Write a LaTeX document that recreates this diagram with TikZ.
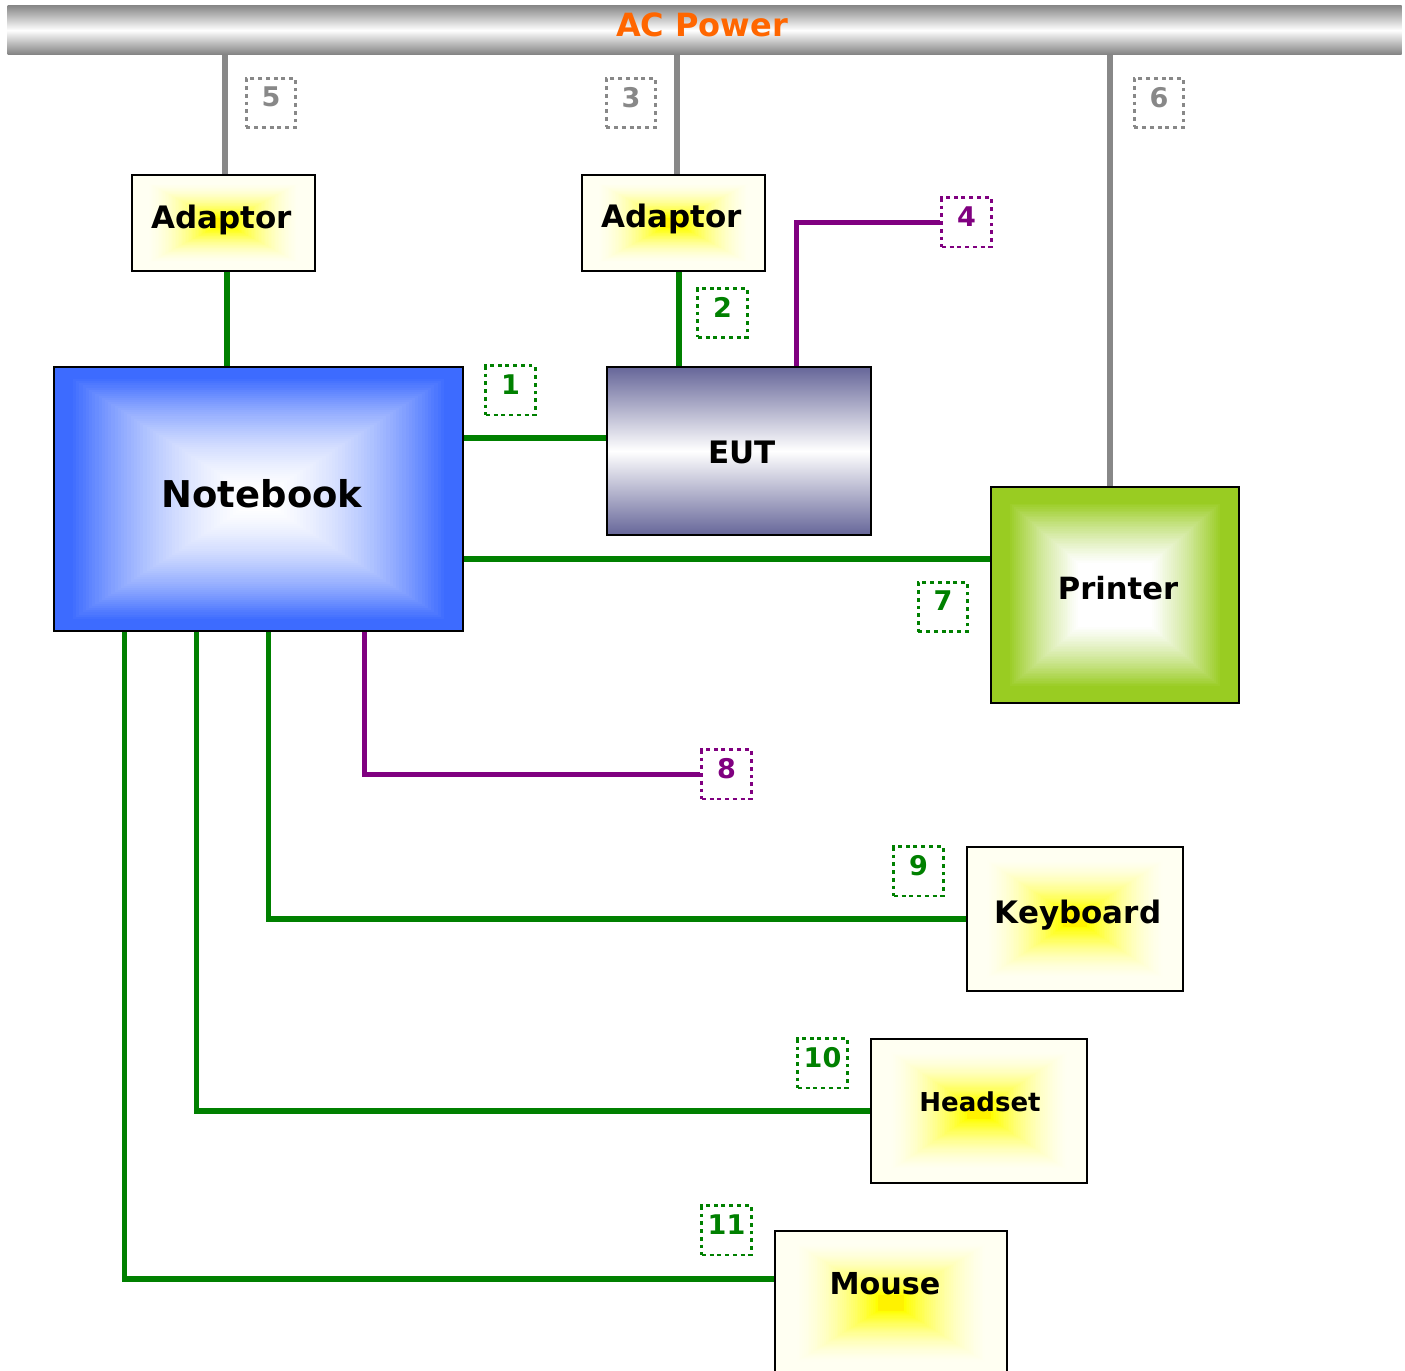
\documentclass[tikz,border=0pt]{standalone}
\usepackage{fontspec}
\setmainfont{DejaVu Sans}
\usetikzlibrary{calc}
\definecolor{grn}{HTML}{008000}
\definecolor{purp}{HTML}{800080}
\definecolor{lgray}{HTML}{888888}
\definecolor{acorange}{HTML}{FF6600}
\definecolor{nbblue}{HTML}{3D6BFF}
\definecolor{prgreen}{HTML}{99CC22}
\definecolor{eutc}{HTML}{666699}
\definecolor{ivory}{HTML}{FFFFF2}
\newcommand\fsz[1]{\fontsize{#1}{#1}\selectfont\bfseries}
% rectangular gradient: #1 edge colour, #2 centre colour, #3 inner limit, #4 outer limit, #5 linear share
\newcommand\rgrad[5]{%
  \foreach \i in {0,...,63}{%
    \pgfmathsetmacro\tt{1-\i/64}%
    \pgfmathsetmacro\xx{min(1,max(0,(\tt-#3)/(#4-#3)))}%
    \pgfmathsetmacro\pp{100*(#5*\xx+(1-#5)*\xx*\xx)}%
    \fill[#1!\pp!#2] ($(path picture bounding box.center)!\tt!(path picture bounding box.north west)$) rectangle ($(path picture bounding box.center)!\tt!(path picture bounding box.south east)$);
  }%
}
\begin{document}
\begin{tikzpicture}[x=0.01cm,y=-0.01cm,
  wire/.style={line width=1.45pt},
  gw/.style={wire, grn},
  pw/.style={wire, purp},
  aw/.style={line width=1.7pt, lgray},
  boxb/.style={draw=black, line width=0.6pt, inner sep=0pt},
  ybox/.style={boxb, path picture={\rgrad{ivory}{yellow}{0.12}{0.82}{1.7}}},
  lbl/.style={draw, line width=0.85pt, dash pattern=on 1.1pt off 1.1pt, minimum width=0.49cm, minimum height=0.49cm, inner sep=0pt, text depth=0.12cm, font=\fsz{7.7}},
  txt/.style={inner sep=0pt, text=black}]
\useasboundingbox (0,0) rectangle (1405,1371);
\clip (0,0) rectangle (1405,1371);
% AC power bar
\node[shade, top color=lgray, bottom color=lgray!95!black, middle color=white, minimum width=13.93cm, minimum height=0.49cm, inner sep=0pt, anchor=north west] (ac) at (7,5) {};
% boxes
\node[ybox, minimum width=1.83cm, minimum height=0.96cm] (ad1) at (223.5,223) {};
\node[ybox, minimum width=1.83cm, minimum height=0.96cm] (ad2) at (673.5,223) {};
\node[boxb, minimum width=4.09cm, minimum height=2.64cm, path picture={\rgrad{nbblue}{white}{0.08}{0.92}{0.35}}] (nb) at (258.5,499) {};
\node[boxb, shade, top color=eutc, bottom color=eutc, middle color=white, minimum width=2.64cm, minimum height=1.68cm] (eut) at (739,451) {};
\node[boxb, minimum width=2.48cm, minimum height=2.16cm, path picture={\rgrad{prgreen}{white}{0.3}{0.86}{0.7}}] (pr) at (1115,595) {};
\node[ybox, minimum width=2.16cm, minimum height=1.44cm] (kb) at (1075,919) {};
\node[ybox, minimum width=2.16cm, minimum height=1.44cm] (hs) at (979,1111) {};
\node[ybox, minimum width=2.32cm, minimum height=1.44cm] (ms) at (891,1303) {};
% labels
\node[lbl, lgray] (l5) at (271,103) {5};
\node[lbl, lgray] (l3) at (631,103) {3};
\node[lbl, lgray] (l6) at (1159,103) {6};
\node[lbl, grn] (l1) at (510.5,390.5) {1};
\node[lbl, grn] (l2) at (722.5,313) {2};
\node[lbl, purp] (l4) at (966.5,222.5) {4};
\node[lbl, grn] (l7) at (943,607) {7};
\node[lbl, purp] (l8) at (726.5,774.5) {8};
\node[lbl, grn] (l9) at (918.5,871.5) {9};
\node[lbl, grn] (l10) at (822.5,1063.5) {10};
\node[lbl, grn] (l11) at (726.5,1230.5) {11};
% power wires
\draw[aw] ([xshift=0.015cm]ad1.north) -- ([xshift=0.015cm]ad1.north |- ac.south);
\draw[aw] ([xshift=0.035cm]ad2.north) -- ([xshift=0.035cm]ad2.north |- ac.south);
\draw[aw] ([xshift=-0.05cm]pr.north) -- ([xshift=-0.05cm]pr.north |- ac.south);
% signal wires
\draw[gw] ([xshift=0.035cm]ad1.south) -- ([xshift=0.035cm]ad1.south |- nb.north);
\draw[gw] ([xshift=0.055cm]ad2.south) -- ([xshift=0.055cm]ad2.south |- eut.north);
\draw[pw] (eut.north west) ++(191,0) |- (l4.west);
\draw[gw] ([yshift=0.13cm]eut.west) -- ([yshift=0.13cm]eut.west -| nb.east);
\draw[gw] ([yshift=0.36cm]pr.west) -- ([yshift=0.36cm]pr.west -| nb.east);
\draw[pw] (nb.south west) ++(312,0) |- (l8.west);
\draw[gw] (nb.south west) ++(216,0) |- (kb.west);
\draw[gw] (nb.south west) ++(144,0) |- (hs.west);
\draw[gw] (nb.south west) ++(72,0) |- ([yshift=0.24cm]ms.west);
% texts
\node[txt, text=acorange, font=\fsz{9.1}] (actx) at (702,25) {AC Power};
\node[txt, font=\fsz{8.8}] (ad1t) at (222,220) {Adaptor};
\node[txt, font=\fsz{8.8}] (ad2t) at (672,219) {Adaptor};
\node[txt, font=\fsz{10.5}] (nbt) at (262,494) {Notebook};
\node[txt, font=\fsz{8.8}] (eutt) at (742,452) {EUT};
\node[txt, font=\fsz{8.7}] (prt) at (1118,588) {Printer};
\node[txt, font=\fsz{8.8}] (kbt) at (1078,915) {Keyboard};
\node[txt, font=\fsz{7.4}] (hst) at (980,1102) {Headset};
\node[txt, font=\fsz{8.6}] (mst) at (885,1284) {Mouse};
\end{tikzpicture}
\end{document}
